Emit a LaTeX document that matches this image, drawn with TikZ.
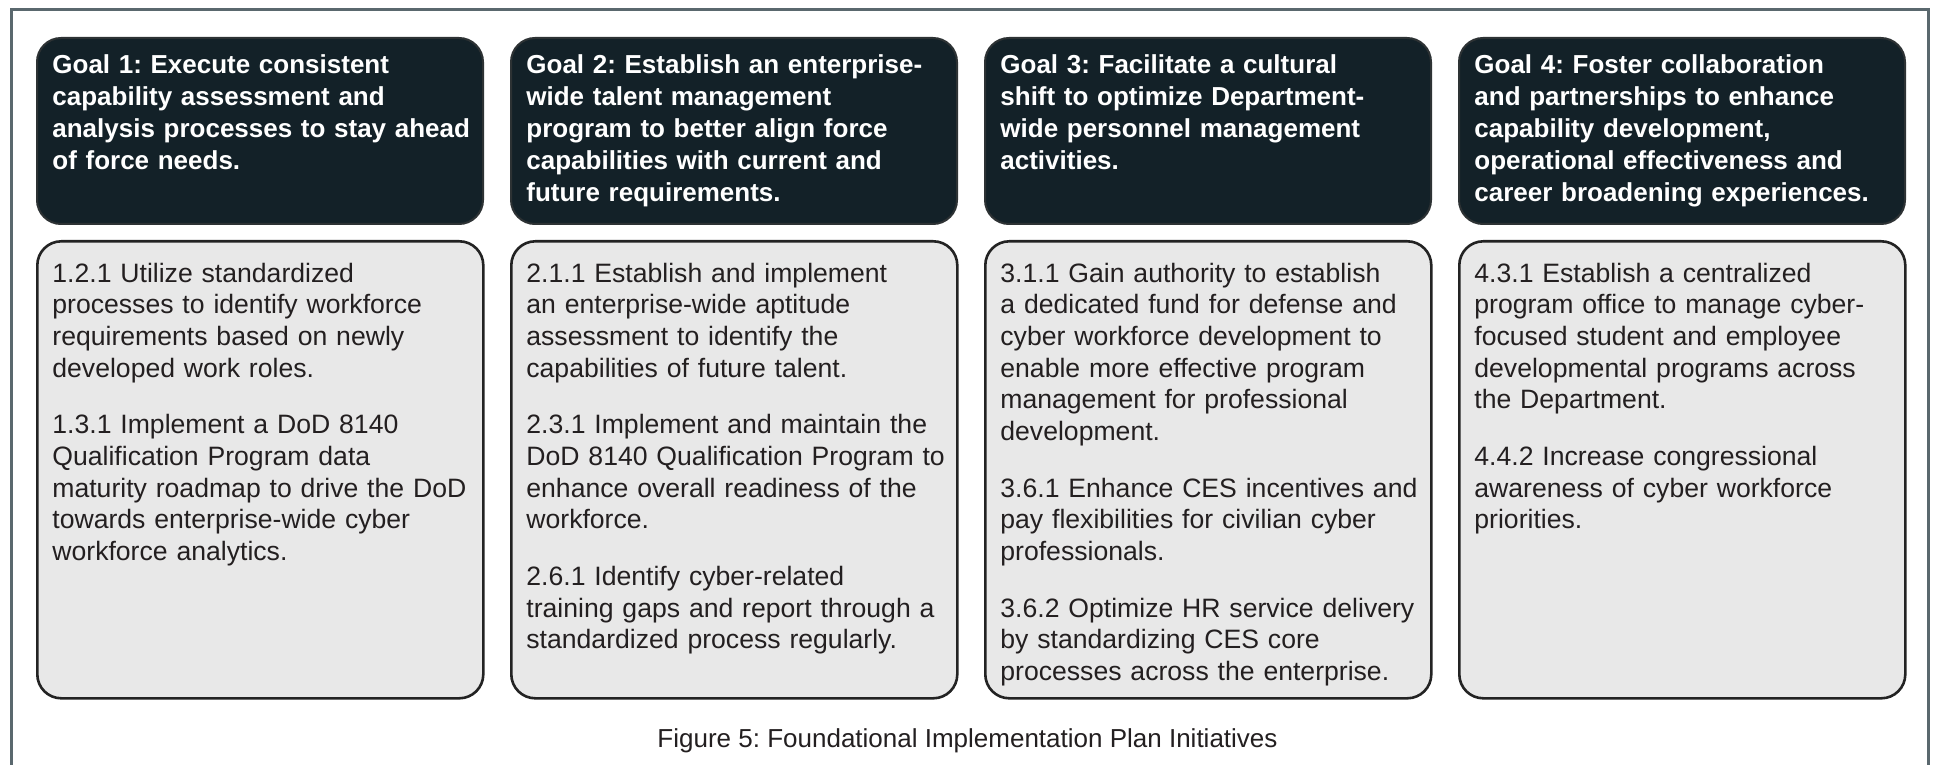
\documentclass[tikz,border=0pt]{standalone}
\usepackage{fontspec}
\setmainfont{Liberation Sans}
\frenchspacing
\definecolor{hdrfill}{RGB}{19,33,40}
\definecolor{hdredge}{RGB}{45,50,52}
\definecolor{bodyfill}{RGB}{232,232,232}
\definecolor{bodyedge}{RGB}{35,35,35}
\definecolor{bodytext}{RGB}{35,31,32}
\definecolor{framecol}{RGB}{90,104,110}
\begin{document}
\begin{tikzpicture}[x=0.5pt,y=-0.5pt,
  hdrbox/.style={draw=hdredge, fill=hdrfill, line width=1pt, rounded corners=12pt,
    minimum width=223pt, minimum height=93pt, inner sep=0pt, anchor=north west},
  bodybox/.style={draw=bodyedge, fill=bodyfill, line width=1.3pt, rounded corners=12pt,
    minimum width=223pt, minimum height=228.5pt, inner sep=0pt, anchor=north west},
  hdrtxt/.style={text=white, font=\fontsize{13pt}{16pt}\selectfont\bfseries\frenchspacing,
    text width=300pt, align=left, inner sep=0pt, anchor=base west},
  bodytxt/.style={text=bodytext, font=\fontsize{13.3pt}{15.85pt}\selectfont\frenchspacing,
    text width=300pt, align=left, inner sep=0pt, anchor=base west},
  captxt/.style={text=bodytext, font=\fontsize{13pt}{16pt}\selectfont\frenchspacing, inner sep=0pt, anchor=base},
  framesty/.style={draw=framecol, line width=1.5pt}
]
\path[use as bounding box, fill=white] (0,0) rectangle (1935,765);
\draw[framesty] (11,765) -- (11,10) -- (1928,10) -- (1928,765);

% headers
\node[hdrbox] (g1) at (36,37) {};
\node[hdrbox] (g2) at (510,37) {};
\node[hdrbox] (g3) at (984,37) {};
\node[hdrbox] (g4) at (1458,37) {};
% bodies
\node[bodybox] (b1) at (36,240) {};
\node[bodybox] (b2) at (510,240) {};
\node[bodybox] (b3) at (984,240) {};
\node[bodybox] (b4) at (1458,240) {};

\node[hdrtxt] (g1t) at ([xshift=8pt,yshift=-18.5pt]g1.north west)
 {Goal 1: Execute consistent\\capability assessment and\\analysis processes to stay ahead\\of force needs.};
\node[hdrtxt] (g2t) at ([xshift=8pt,yshift=-18.5pt]g2.north west)
 {Goal 2: Establish an enterprise-\\wide talent management\\program to better align force\\capabilities with current and\\future requirements.};
\node[hdrtxt] (g3t) at ([xshift=8pt,yshift=-18.5pt]g3.north west)
 {Goal 3: Facilitate a cultural\\shift to optimize Department-\\wide personnel management\\activities.};
\node[hdrtxt] (g4t) at ([xshift=8pt,yshift=-18.5pt]g4.north west)
 {Goal 4: Foster collaboration\\and partnerships to enhance\\capability development,\\operational effectiveness and\\career broadening experiences.};

\node[bodytxt] (b1t) at ([xshift=8pt,yshift=-21pt]b1.north west)
 {1.2.1 Utilize standardized\\processes to identify workforce\\requirements based on newly\\developed work roles.\\[12.5pt]1.3.1 Implement a DoD 8140\\Qualification Program data\\maturity roadmap to drive the DoD\\towards enterprise-wide cyber\\workforce analytics.};
\node[bodytxt] (b2t) at ([xshift=8pt,yshift=-21pt]b2.north west)
 {2.1.1 Establish and implement\\an enterprise-wide aptitude\\assessment to identify the\\capabilities of future talent.\\[12.5pt]2.3.1 Implement and maintain the\\DoD 8140 Qualification Program to\\enhance overall readiness of the\\workforce.\\[12.5pt]2.6.1 Identify cyber-related\\training gaps and report through a\\standardized process regularly.};
\node[bodytxt] (b3t) at ([xshift=8pt,yshift=-21pt]b3.north west)
 {3.1.1 Gain authority to establish\\a dedicated fund for defense and\\cyber workforce development to\\enable more effective program\\management for professional\\development.\\[12.5pt]3.6.1 Enhance CES incentives and\\pay flexibilities for civilian cyber\\professionals.\\[12.5pt]3.6.2 Optimize HR service delivery\\by standardizing CES core\\processes across the enterprise.};
\node[bodytxt] (b4t) at ([xshift=8pt,yshift=-21pt]b4.north west)
 {4.3.1 Establish a centralized\\program office to manage cyber-\\focused student and employee\\developmental programs across\\the Department.\\[12.5pt]4.4.2 Increase congressional\\awareness of cyber workforce\\priorities.};

\node[captxt] (cap) at (967.5,747) {Figure 5: Foundational Implementation Plan Initiatives};
\end{tikzpicture}
\end{document}
